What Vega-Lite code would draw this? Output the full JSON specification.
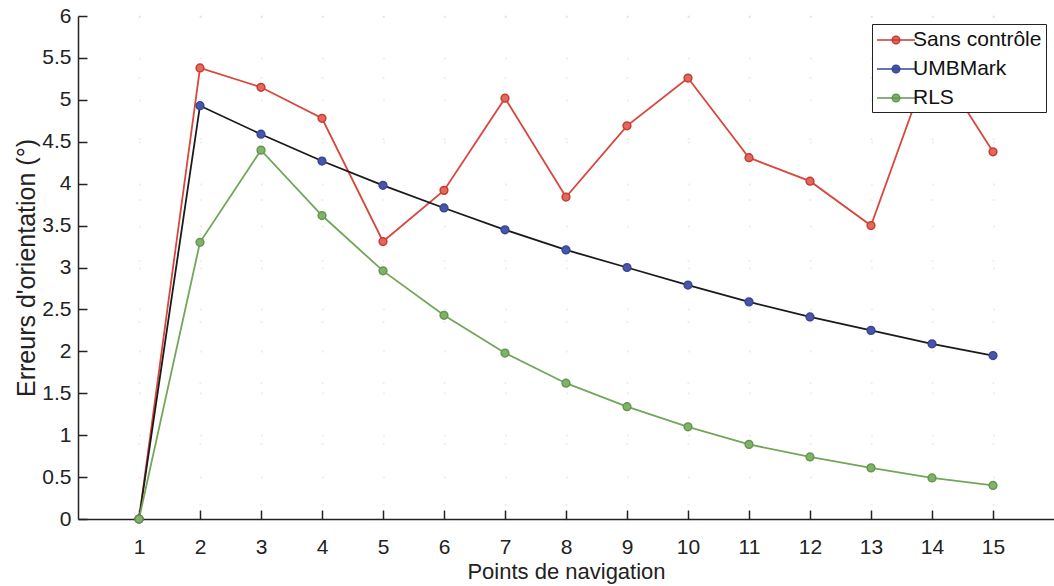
{
  "$schema": "https://vega.github.io/schema/vega-lite/v6.json",
  "width": 976,
  "height": 503,
  "autosize": "none",
  "padding": {"left": 78, "top": 16, "right": 0, "bottom": 67},
  "background": "white",
  "config": {
    "font": "Liberation Sans",
    "view": {"stroke": null},
    "axis": {
      "domainColor": "#222",
      "domainWidth": 1.5,
      "tickColor": "#222",
      "tickWidth": 1.5,
      "labelColor": "#222",
      "titleColor": "#222",
      "labelFont": "Liberation Sans",
      "titleFont": "Liberation Sans",
      "titleFontWeight": "normal",
      "gridColor": "#cccccc",
      "gridDash": [1, 60],
      "gridWidth": 2,
      "gridOpacity": 0.6
    }
  },
  "data": {
    "values": [
      {"x": 1, "serie": "Sans contrôle", "y": 0},
      {"x": 2, "serie": "Sans contrôle", "y": 5.38},
      {"x": 3, "serie": "Sans contrôle", "y": 5.15},
      {"x": 4, "serie": "Sans contrôle", "y": 4.78},
      {"x": 5, "serie": "Sans contrôle", "y": 3.31},
      {"x": 6, "serie": "Sans contrôle", "y": 3.92},
      {"x": 7, "serie": "Sans contrôle", "y": 5.02},
      {"x": 8, "serie": "Sans contrôle", "y": 3.84},
      {"x": 9, "serie": "Sans contrôle", "y": 4.69},
      {"x": 10, "serie": "Sans contrôle", "y": 5.26},
      {"x": 11, "serie": "Sans contrôle", "y": 4.31},
      {"x": 12, "serie": "Sans contrôle", "y": 4.03},
      {"x": 13, "serie": "Sans contrôle", "y": 3.5},
      {"x": 14, "serie": "Sans contrôle", "y": 5.52},
      {"x": 15, "serie": "Sans contrôle", "y": 4.38},
      {"x": 1, "serie": "UMBMark", "y": 0},
      {"x": 2, "serie": "UMBMark", "y": 4.93},
      {"x": 3, "serie": "UMBMark", "y": 4.59},
      {"x": 4, "serie": "UMBMark", "y": 4.27},
      {"x": 5, "serie": "UMBMark", "y": 3.98},
      {"x": 6, "serie": "UMBMark", "y": 3.71},
      {"x": 7, "serie": "UMBMark", "y": 3.45},
      {"x": 8, "serie": "UMBMark", "y": 3.21},
      {"x": 9, "serie": "UMBMark", "y": 3.0},
      {"x": 10, "serie": "UMBMark", "y": 2.79},
      {"x": 11, "serie": "UMBMark", "y": 2.59},
      {"x": 12, "serie": "UMBMark", "y": 2.41},
      {"x": 13, "serie": "UMBMark", "y": 2.25},
      {"x": 14, "serie": "UMBMark", "y": 2.09},
      {"x": 15, "serie": "UMBMark", "y": 1.95},
      {"x": 1, "serie": "RLS", "y": 0},
      {"x": 2, "serie": "RLS", "y": 3.3},
      {"x": 3, "serie": "RLS", "y": 4.4},
      {"x": 4, "serie": "RLS", "y": 3.62},
      {"x": 5, "serie": "RLS", "y": 2.96},
      {"x": 6, "serie": "RLS", "y": 2.43},
      {"x": 7, "serie": "RLS", "y": 1.98},
      {"x": 8, "serie": "RLS", "y": 1.62},
      {"x": 9, "serie": "RLS", "y": 1.34},
      {"x": 10, "serie": "RLS", "y": 1.1},
      {"x": 11, "serie": "RLS", "y": 0.89},
      {"x": 12, "serie": "RLS", "y": 0.74},
      {"x": 13, "serie": "RLS", "y": 0.61},
      {"x": 14, "serie": "RLS", "y": 0.49},
      {"x": 15, "serie": "RLS", "y": 0.4}
    ]
  },
  "encoding": {
    "x": {
      "field": "x",
      "type": "quantitative",
      "scale": {"domain": [0, 16], "nice": false, "zero": false},
      "axis": {
        "title": "Points de navigation",
        "values": [1, 2, 3, 4, 5, 6, 7, 8, 9, 10, 11, 12, 13, 14, 15],
        "format": "d",
        "labelFontSize": 21,
        "titleFontSize": 22,
        "tickSize": -9,
        "labelPadding": 26,
        "titlePadding": 4,
        "grid": true
      }
    },
    "y": {
      "field": "y",
      "type": "quantitative",
      "scale": {"domain": [0, 6], "nice": false},
      "axis": {
        "title": "Erreurs d'orientation (°)",
        "values": [0, 0.5, 1, 1.5, 2, 2.5, 3, 3.5, 4, 4.5, 5, 5.5, 6],
        "format": "~g",
        "labelFontSize": 21,
        "titleFontSize": 25,
        "tickSize": -9,
        "labelPadding": 16,
        "titlePadding": 2,
        "grid": true
      }
    }
  },
  "layer": [
    {
      "mark": {"type": "line", "strokeWidth": 1.8},
      "encoding": {
        "color": {
          "field": "serie",
          "type": "nominal",
          "sort": ["Sans contrôle", "UMBMark", "RLS"],
          "scale": {"domain": ["Sans contrôle", "UMBMark", "RLS"], "range": ["#d8473d", "#1a1a1a", "#72a65a"]},
          "legend": null
        }
      }
    },
    {
      "mark": {"type": "point", "filled": true, "size": 60, "strokeWidth": 1.5, "opacity": 1},
      "encoding": {
        "fill": {
          "field": "serie",
          "type": "nominal",
          "sort": ["Sans contrôle", "UMBMark", "RLS"],
          "scale": {"domain": ["Sans contrôle", "UMBMark", "RLS"], "range": ["#e06a5e", "#4a56a8", "#7fb36a"]},
          "legend": {
            "title": null,
            "orient": "none",
            "legendX": 794,
            "legendY": 8,
            "labelFontSize": 21,
            "labelColor": "#111",
            "fillColor": "white",
            "strokeColor": "#222",
            "padding": 4,
            "rowPadding": 7,
            "symbolType": "M-1.7,0L1.7,0M-0.34,0A0.34,0.34,0,1,1,0.34,0A0.34,0.34,0,1,1,-0.34,0",
            "symbolSize": 500,
            "symbolStrokeWidth": 1.5,
            "symbolOffset": 8,
            "labelOffset": 5
          }
        },
        "stroke": {
          "field": "serie",
          "type": "nominal",
          "sort": ["Sans contrôle", "UMBMark", "RLS"],
          "scale": {"domain": ["Sans contrôle", "UMBMark", "RLS"], "range": ["#c93a30", "#3a4598", "#64964f"]},
          "legend": null
        }
      }
    }
  ],
  "resolve": {"scale": {"color": "independent", "fill": "independent", "stroke": "independent"}}
}
